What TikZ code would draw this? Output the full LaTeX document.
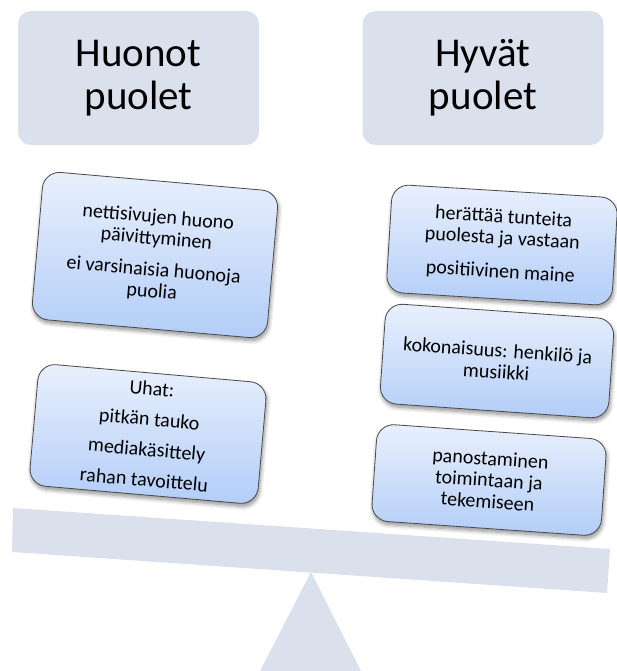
\documentclass[tikz,border=0pt]{standalone}
\usepackage{fontspec}
\setmainfont{Carlito}
\usetikzlibrary{shadows.blur}

\definecolor{panel}{HTML}{DBE1EC}
\definecolor{cardtop}{HTML}{E9F0FC}
\definecolor{cardbot}{HTML}{B2CDF8}
\definecolor{cardline}{HTML}{4A4A4A}

\tikzset{
  header/.style={fill=panel, rounded corners=13pt, minimum width=241pt,
    minimum height=134pt, align=center, inner sep=0pt,
    font=\fontsize{41}{43}\selectfont},
  card/.style={draw=cardline, line width=0.8pt, rounded corners=17pt,
    top color=cardtop, bottom color=cardbot, align=center, inner sep=0pt,
    font=\fontsize{20}{21.5}\selectfont,
    blur shadow={shadow xshift=1pt, shadow yshift=-3pt, shadow blur steps=8,
      shadow opacity=45, shadow blur radius=4pt}},
}

\begin{document}
\begin{tikzpicture}[x=1pt, y=-1pt]
  \useasboundingbox (0,0) rectangle (617,671);

  % column headings
  \node[header] (cons) at (138.5,78) {Huonot\\puolet};
  \node[header] (pros) at (483,78) {Hyvät\\puolet};

  % balance beam and fulcrum
  \coordinate (beamTL) at (13,508);
  \coordinate (beamTR) at (610,549);
  \coordinate (beamBR) at (607,593);
  \coordinate (beamBL) at (12,552);
  \fill[panel] (beamTL) -- (beamTR) -- (beamBR) -- (beamBL) -- cycle;
  \coordinate (apex) at (311,572);
  \coordinate (baseL) at (260,671);
  \coordinate (baseR) at (361,671);
  \fill[panel] (apex) -- (baseR) -- (baseL) -- cycle;

  % weaknesses
  \node[card, minimum width=236pt, minimum height=148pt, rotate=-5]
    (weak) at (155,255)
    {nettisivujen huono\\päivittyminen\\[10pt]ei varsinaisia huonoja\\puolia};
  \node[card, minimum width=229pt, minimum height=122pt, rotate=-5]
    (threats) at (148,434)
    {Uhat:\\[9pt]pitkän tauko\\[9pt]mediakäsittely\\[9pt]rahan tavoittelu};

  % strengths
  \node[card, minimum width=226pt, minimum height=108pt, rotate=-3.5]
    (feel) at (502,245)
    {herättää tunteita\\puolesta ja vastaan\\[12pt]positiivinen maine};
  \node[card, minimum width=229pt, minimum height=100pt, rotate=-4]
    (whole) at (497,361)
    {kokonaisuus: henkilö ja\\musiikki};
  \node[card, minimum width=230pt, minimum height=97pt, rotate=-4]
    (effort) at (489,480)
    {panostaminen\\toimintaan ja\\tekemiseen};
\end{tikzpicture}
\end{document}
